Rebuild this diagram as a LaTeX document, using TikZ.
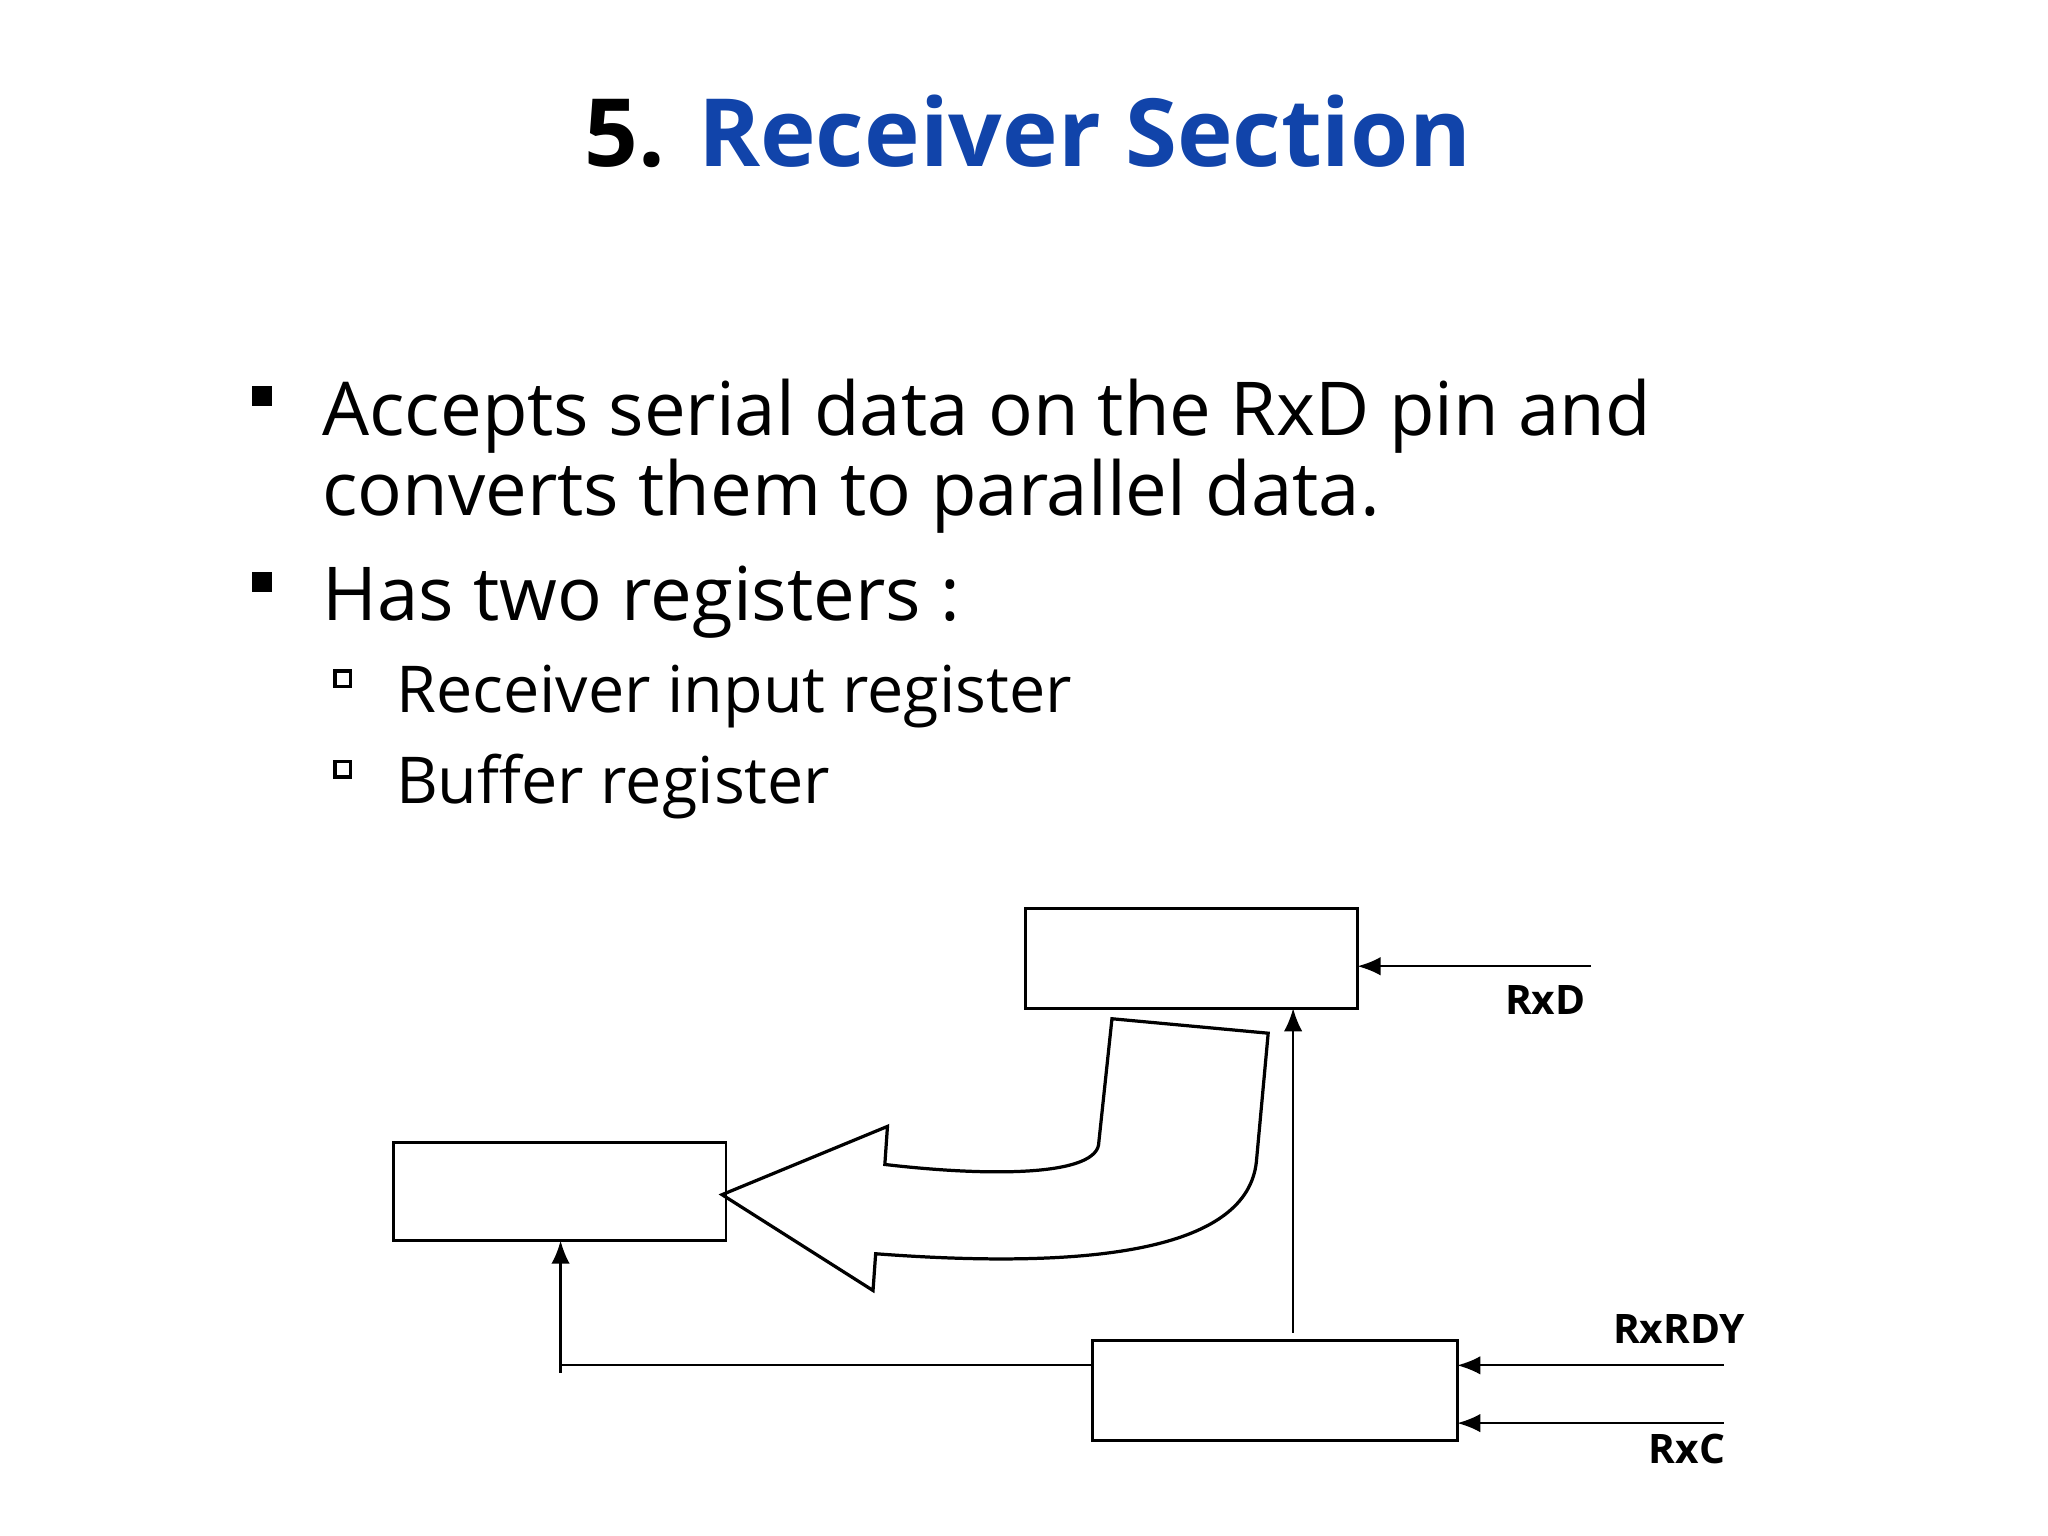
\documentclass[tikz,border=0pt]{standalone}
\usepackage{fontspec}
\setmainfont{Open Sans}
\usetikzlibrary{arrows.meta}
\definecolor{titleblue}{RGB}{17,68,170}
\tikzset{
  reg/.style={draw, line width=0.6pt},
  sig/.style={-{Latex[length=5pt,width=4pt]}, line width=0.5pt},
  pin/.style={font=\bfseries\fontsize{8.8}{10}\selectfont},
  item/.style={anchor=base west, inner sep=0pt, font=\fontsize{16.1}{18}\selectfont},
  subitem/.style={anchor=base west, inner sep=0pt, font=\fontsize{14}{16}\selectfont}
}
\begin{document}
\begin{tikzpicture}[x=0.01cm, y=-0.01cm]
\useasboundingbox (0,0) rectangle (1560,1170);
% title
\node (title) at (783,100) {\bfseries\fontsize{20.4}{24}\selectfont 5. \textcolor{titleblue}{Receiver Section}};
% bullets
\fill (192,294) rectangle (207,309);
\fill (192,436) rectangle (207,451);
\draw[line width=0.8pt] (255,511) rectangle (267,523);
\draw[line width=0.8pt] (255,580) rectangle (267,592);
\node[item] (b1) at (245,332) {Accepts serial data on the RxD pin and};
\node[item] (b1b) at (245,393) {converts them to parallel data.};
\node[item] (b2) at (245,473) {Has two registers :};
\node[subitem] (s1) at (301,543) {Receiver input register};
\node[subitem] (s2) at (301,612) {Buffer register};
% registers
\draw[reg] (781,692) rectangle (1034,768);
\draw[reg] (300,870) rectangle (553,945);
\draw[reg] (832,1021) rectangle (1110,1097);
\coordinate (rxdin) at (1034,736);
\coordinate (rdyin) at (1110,1040);
\coordinate (rxcin) at (1110,1084);
% signals
\draw[sig] (1212,736) -- (rxdin);
\draw[sig] (1313,1040) -- (rdyin);
\draw[sig] (1313,1084) -- (rxcin);
\node[pin] (rxd) at (1177,762) {RxD};
\node[pin] (rxrdy) at (1279,1012) {RxRDY};
\node[pin] (rxc) at (1285,1104) {RxC};
\draw[sig] (985,1015) -- (985,768);
\draw[line width=0.5pt] (832,1040) -- (427,1040) -- (427,1046);
\draw[sig] (427,1040) -- (427,945);
% transfer arrow
\draw[line width=0.7pt, line join=miter]
  (550,910) -- (676,858) -- (674,887)
  .. controls (760,897) and (837,895) .. (837,870) -- (847,776) -- (966,787)
  -- (957,885) .. controls (950,950) and (840,968) .. (667,955)
  -- (665,983) -- cycle;
\end{tikzpicture}
\end{document}
